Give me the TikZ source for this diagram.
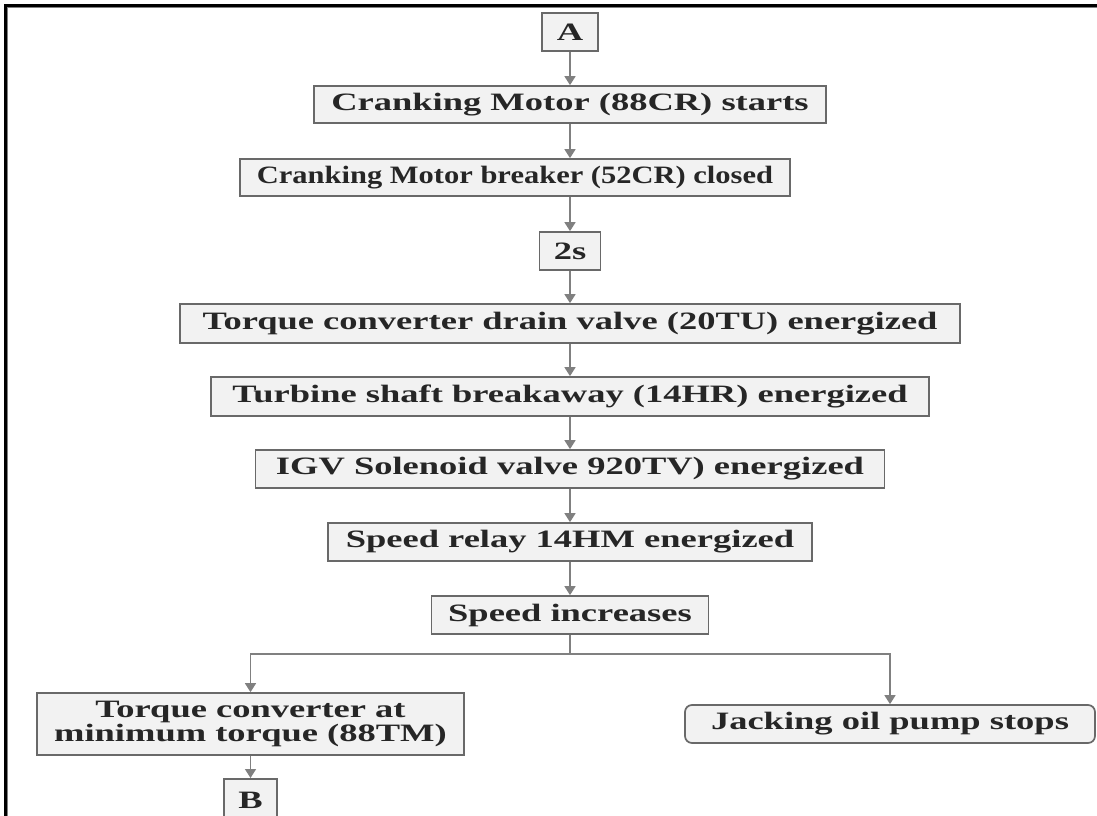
\documentclass[tikz,border=0pt]{standalone}
\usepackage{fontspec}
\setmainfont{Liberation Serif}
\newfontfamily\labelfont{Liberation Serif}[FakeStretch=1.46]
\newfontfamily\narrowfont{Liberation Serif}[FakeStretch=1.22]
\usetikzlibrary{arrows.meta}

\definecolor{boxfill}{RGB}{242,242,242}
\definecolor{boxline}{RGB}{105,105,105}
\definecolor{flowline}{RGB}{128,128,128}

\tikzset{
  stepbox/.style={draw=boxline, line width=1.7pt, fill=boxfill, inner sep=0pt,
    align=center, text=black!85,
    font=\labelfont\bfseries\fontsize{25}{24.5}\selectfont},
  flow/.style={draw=flowline, line width=1.5pt, -{Triangle[width=11pt,length=9pt]}},
  joint/.style={draw=flowline, line width=1.5pt},
}

\begin{document}
\begin{tikzpicture}[x=1pt, y=-1pt]
  \useasboundingbox (0,0) rectangle (1097,816);
  \clip (0,0) rectangle (1097,816);
  \fill[white] (0,0) rectangle (1097,816);

  % page frame (top and left edges)
  \draw[black, line width=3pt] (5.3,816) -- (5.3,5.3) -- (1097,5.3);
  \draw[gray, line width=0.8pt] (7.2,816) -- (7.2,7.2) -- (1097,7.2);

  % main sequence
  \node[stepbox, minimum width=56pt,  minimum height=38pt] (a)     at (570,32)    {A};
  \node[stepbox, minimum width=512pt, minimum height=37pt] (crank) at (570,104.5) {Cranking Motor (88CR) starts};
  \node[stepbox, minimum width=550pt, minimum height=37pt,
        font=\narrowfont\bfseries\fontsize{25}{24.5}\selectfont]
                                                           (brk)   at (515,177.5) {Cranking Motor breaker (52CR) closed};
  \node[stepbox, minimum width=61pt,  minimum height=38pt] (delay) at (570,251)   {2s};
  \node[stepbox, minimum width=780pt, minimum height=39pt] (drain) at (570,323.5) {Torque converter drain valve (20TU) energized};
  \node[stepbox, minimum width=718pt, minimum height=39pt] (shaft) at (570,396.5) {Turbine shaft breakaway (14HR) energized};
  \node[stepbox, minimum width=629pt, minimum height=38pt] (igv)   at (570,469)   {IGV Solenoid valve 920TV) energized};
  \node[stepbox, minimum width=484pt, minimum height=38pt] (relay) at (570,542)   {Speed relay 14HM energized};
  \node[stepbox, minimum width=277pt, minimum height=38pt] (inc)   at (570,615)   {Speed increases};

  % branches
  \node[stepbox, minimum width=427pt, minimum height=62pt] (tmin)  at (250.5,724) {Torque converter at\\minimum torque (88TM)};
  \node[stepbox, minimum width=410pt, minimum height=38pt, rounded corners=7pt]
                                                           (jack)  at (890,724)   {Jacking oil pump stops};
  \node[stepbox, minimum width=53pt,  minimum height=42pt, anchor=north]
                                                           (b)     at (250.5,778) {B};

  \coordinate (split) at (570,654);

  % connectors
  \draw[flow] (a) -- (crank);
  \draw[flow] (crank.south) -- (crank.south |- brk.north);
  \draw[flow] (delay.north |- brk.south) -- (delay.north);
  \draw[flow] (delay) -- (drain);
  \draw[flow] (drain) -- (shaft);
  \draw[flow] (shaft) -- (igv);
  \draw[flow] (igv) -- (relay);
  \draw[flow] (relay) -- (inc);
  \draw[joint] (inc.south) -- (split);
  \draw[flow] (split) -| (tmin.north);
  \draw[flow] (split) -| (jack.north);
  \draw[flow] (tmin) -- (b);
\end{tikzpicture}
\end{document}
